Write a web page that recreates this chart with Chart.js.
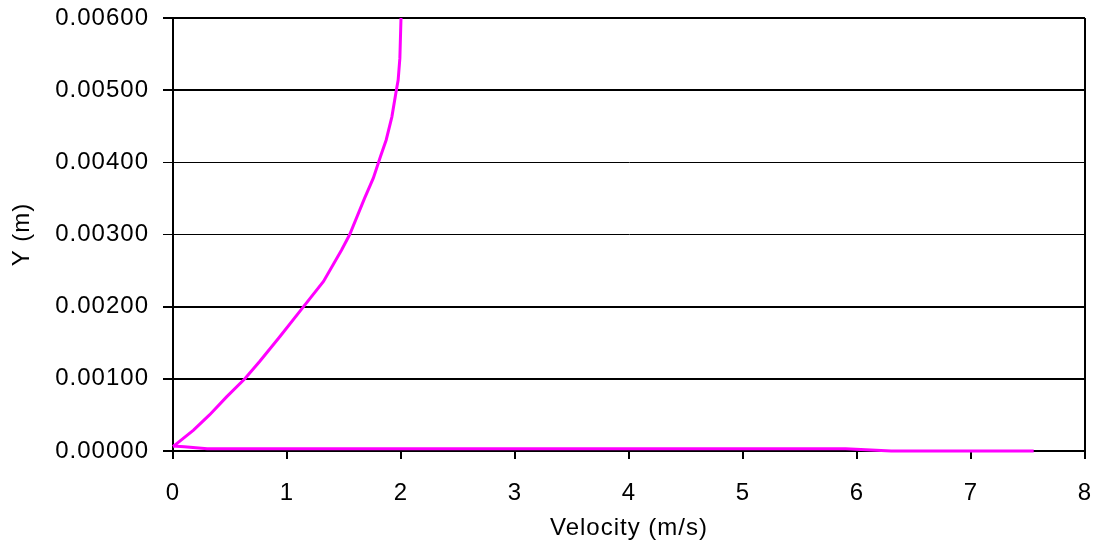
<!DOCTYPE html>
<html>
<head>
<meta charset="utf-8">
<script src="https://cdn.jsdelivr.net/npm/chart.js@4"></script>
<style>
  html, body { margin: 0; padding: 0; background: #fff; }
  #wrap { width: 1100px; height: 556px; }
</style>
</head>
<body>
<div id="wrap"><canvas id="profileChart" width="1100" height="556"></canvas></div>
<script>
// velocity profile
const profileVel = [0, 0.18, 0.32, 0.47, 0.63, 0.76, 0.94, 1.14, 1.32, 1.48, 1.55, 1.68, 1.757, 1.82, 1.87, 1.92, 1.955, 1.975, 1.99, 2.0];
const profileY   = [0.00006, 0.00029, 0.0005, 0.00075, 0.001, 0.00124, 0.00159, 0.00199, 0.00235, 0.00279, 0.003, 0.0035, 0.00378, 0.00408, 0.00431, 0.00463, 0.00496, 0.00514, 0.00544, 0.006];

// near-wall line along the bottom
const wallVel = [0, 0.1, 0.3, 5.9, 6.3, 7.55];
const wallY   = [0.00007, 0.00006, 0.00003, 0.00003, 0, 0];

const xTicksMax = 8;
const yTicksMax = 0.006;

const fontFamily = '"Liberation Sans", Arial, sans-serif';
const fontSize = 24;

function toPoints(xs, ys) {
    return xs.map((x, i) => ({ x: x, y: ys[i] }));
}

// the original text is drawn a little wider than Arial
const widerText = {
    id: 'widerText',
    beforeDraw(chart) { chart.ctx.letterSpacing = '1px'; }
};

const ctx = document.getElementById('profileChart').getContext('2d');

new Chart(ctx, {
    type: 'scatter',
    data: {
        datasets: [
            {
                data: toPoints(profileVel, profileY),
                showLine: true,
                borderColor: '#ff00ff',
                borderWidth: 3,
                pointRadius: 0,
                tension: 0,
                clip: false
            },
            {
                data: toPoints(wallVel, wallY),
                showLine: true,
                borderColor: '#ff00ff',
                borderWidth: 3,
                pointRadius: 0,
                tension: 0,
                clip: false
            }
        ]
    },
    options: {
        responsive: false,
        animation: false,
        layout: { padding: { left: 0, right: 15, top: 18, bottom: 0 } },
        plugins: { legend: { display: false }, tooltip: { enabled: false } },
        scales: {
            x: {
                type: 'linear',
                min: 0,
                max: xTicksMax,
                afterFit: s => { s.height = 105; s.paddingLeft = 0; s.paddingRight = 0; },
                border: { display: true, color: '#000', width: 2 },
                grid: {
                    color: c => (c.tick && c.tick.value === xTicksMax) ? '#000' : 'rgba(0,0,0,0)',
                    lineWidth: 2,
                    tickColor: '#000',
                    tickLength: 8
                },
                ticks: {
                    stepSize: 1,
                    color: '#000',
                    padding: 20,
                    maxRotation: 0,
                    font: { family: fontFamily, size: fontSize }
                },
                title: {
                    display: true,
                    text: 'Velocity (m/s)',
                    color: '#000',
                    padding: { top: 0, bottom: 13 },
                    font: { family: fontFamily, size: fontSize }
                }
            },
            y: {
                type: 'linear',
                min: 0,
                max: yTicksMax,
                afterFit: s => { s.width = 173; s.paddingTop = 0; s.paddingBottom = 0; },
                border: { display: true, color: '#000', width: 2 },
                grid: {
                    color: '#000',
                    lineWidth: [2, 2, 2, 1, 1, 2, 2],
                    tickColor: '#000',
                    tickLength: 10
                },
                ticks: {
                    stepSize: 0.001,
                    color: '#000',
                    padding: 14,
                    font: { family: fontFamily, size: fontSize },
                    callback: v => v.toFixed(5)
                },
                title: {
                    display: true,
                    text: 'Y (m)',
                    color: '#000',
                    padding: { top: 8, bottom: 0 },
                    font: { family: fontFamily, size: fontSize }
                }
            }
        }
    },
    plugins: [widerText]
});
</script>
</body>
</html>
